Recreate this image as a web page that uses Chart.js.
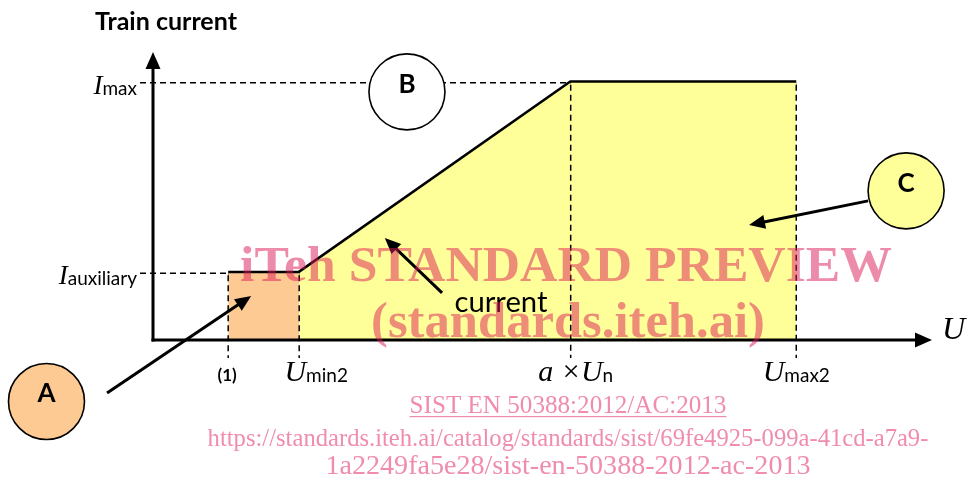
<!DOCTYPE html>
<html><head><meta charset="utf-8">
<script src="https://cdn.jsdelivr.net/npm/chart.js@4.4.1/dist/chart.umd.min.js"></script>
<style>html,body{margin:0;padding:0;background:#fff;overflow:hidden}canvas{display:block}</style>
</head><body>
<canvas id="c" width="967" height="479"></canvas>
<script>
// ---------------- data ----------------
const voltage = [18, 35, 100, 154];          // U(1), Umin2, a×Un, Umax2 (arbitrary units)
const trainCurrent = [26, 26, 100, 100];     // Iauxiliary, Iauxiliary, Imax, Imax
const xTickLabels = ['(1)', 'U_{min2}', 'a ×U_{n}', 'U_{max2}'];
const yTickValues = [100, 26];
const yTickLabels = ['I_{max}', 'I_{auxiliary}'];
const axisTitles = ['Train current', 'U'];
const zoneLabels = ['A', 'B', 'C'];
const curveLabel = 'current';
const watermark = ['iTeh STANDARD PREVIEW', '(standards.iteh.ai)'];
const footer = ['SIST EN 50388:2012/AC:2013',
  'https://standards.iteh.ai/catalog/standards/sist/69fe4925-099a-41cd-a7a9-',
  '1a2249fa5e28/sist-en-50388-2012-ac-2013'];

// ---------------- annotation layout (data units) ----------------
const X_MAX = 186.5, Y_MAX = 112;
const zonePos = [[-25.5, -23.9], [60.8, 96.5], [180.3, 58.0]];
const zoneFill = ['#fdca93', '#ffffff', '#ffff99'];
const arrows = [
  [[-11.0, -20.6], [23.5, 17.1]],
  [[69.2, 18.3], [55.5, 39.7]],
  [[171.2, 54.1], [142.7, 44.7]]
];
const curveLabelPos = [83.3, 10.9];

const pts = (i0, i1) => voltage.slice(i0, i1).map((v, k) => ({x: v, y: trainCurrent[i0 + k]}));

function richParts(label, mainFont, subFont) {
  const m = label.match(/^(.*)_\{(.*)\}$/);
  if (!m) return [{t: label, f: 'bold 17px Lato', dy: 0}];
  return [{t: m[1], f: mainFont, dy: 0}, {t: m[2], f: subFont, dy: 1}];
}
function drawParts(ctx, parts, x, y, align) {
  let w = 0;
  parts.forEach(p => { ctx.font = p.f; p.w = ctx.measureText(p.t).width; w += p.w; });
  let cx = align === 'right' ? x - w : align === 'center' ? x - w / 2 : x;
  parts.forEach(p => { ctx.font = p.f; ctx.textAlign = 'left'; ctx.fillText(p.t, cx, y + p.dy); cx += p.w; });
}
function fitFont(ctx, text, tmpl, width) {
  ctx.font = tmpl.replace('SZ', 100);
  const s = 100 * width / ctx.measureText(text).width;
  return tmpl.replace('SZ', s.toFixed(2));
}
function arrow(ctx, x1, y1, x2, y2) {
  const L = 16, H = 7, ang = Math.atan2(y2 - y1, x2 - x1);
  const bx = x2 - L * Math.cos(ang), by = y2 - L * Math.sin(ang);
  ctx.lineWidth = 3;
  ctx.beginPath(); ctx.moveTo(x1, y1); ctx.lineTo(bx + 2 * Math.cos(ang), by + 2 * Math.sin(ang)); ctx.stroke();
  ctx.beginPath(); ctx.moveTo(x2, y2);
  ctx.lineTo(bx - H * Math.sin(ang), by + H * Math.cos(ang));
  ctx.lineTo(bx + H * Math.sin(ang), by - H * Math.cos(ang));
  ctx.closePath(); ctx.fill();
}

const overlay = {
  id: 'overlay',
  afterDatasetsDraw(chart) {
    const {ctx, chartArea: a, scales: {x: sx, y: sy}} = chart;
    const X = v => sx.getPixelForValue(v), Y = v => sy.getPixelForValue(v);
    const x0 = X(0), y0 = Y(0);
    ctx.save();
    ctx.strokeStyle = '#000'; ctx.fillStyle = '#000';
    // dashed guides
    ctx.setLineDash([6, 4]); ctx.lineWidth = 1.5;
    yTickValues.forEach(v => {
      const i = trainCurrent.indexOf(v);
      ctx.beginPath(); ctx.moveTo(x0 - 13, Y(v)); ctx.lineTo(X(voltage[i]), Y(v)); ctx.stroke();
    });
    voltage.forEach((v, i) => {
      ctx.beginPath(); ctx.moveTo(X(v), Y(trainCurrent[i]) + 2); ctx.lineTo(X(v), y0 + 18); ctx.stroke();
    });
    ctx.setLineDash([]);
    // axes with arrowheads
    ctx.lineWidth = 3;
    ctx.beginPath(); ctx.moveTo(x0, y0 + 1.5); ctx.lineTo(x0, a.top + 12); ctx.stroke();
    ctx.beginPath(); ctx.moveTo(a.left, a.top); ctx.lineTo(a.left - 7.5, a.top + 17); ctx.lineTo(a.left + 7.5, a.top + 17); ctx.closePath(); ctx.fill();
    ctx.beginPath(); ctx.moveTo(x0 - 1.5, y0); ctx.lineTo(a.right - 12, y0); ctx.stroke();
    ctx.beginPath(); ctx.moveTo(a.right, y0); ctx.lineTo(a.right - 17, y0 - 7.5); ctx.lineTo(a.right - 17, y0 + 7.5); ctx.closePath(); ctx.fill();
    // arrows
    arrows.forEach(([p, q]) => arrow(ctx, X(p[0]), Y(p[1]), X(q[0]), Y(q[1])));
    // zone circles
    zoneLabels.forEach((lab, i) => {
      const cx = X(zonePos[i][0]), cy = Y(zonePos[i][1]);
      ctx.beginPath(); ctx.arc(cx, cy, 38, 0, Math.PI * 2);
      ctx.fillStyle = zoneFill[i]; ctx.fill();
      ctx.lineWidth = 1.6; ctx.stroke();
      ctx.fillStyle = '#000'; ctx.font = 'bold 26px Lato';
      ctx.textAlign = 'center'; ctx.textBaseline = 'alphabetic';
      ctx.fillText(lab, cx, cy + 1);
    });
    // tick labels
    ctx.textBaseline = 'alphabetic';
    yTickValues.forEach((v, i) => {
      drawParts(ctx, richParts(yTickLabels[i], 'italic 27px "Liberation Serif"', '19px Lato'), x0 - 16, Y(v) + 11, 'right');
    });
    const xOff = [-1, 17, 5, 0];
    voltage.forEach((v, i) => {
      drawParts(ctx, richParts(xTickLabels[i], 'italic 30px "Liberation Serif"', '19px Lato'), X(v) + xOff[i], y0 + 41, 'center');
    });
    // axis titles
    ctx.font = fitFont(ctx, axisTitles[0], 'bold SZpx Lato', 142);
    ctx.textAlign = 'left'; ctx.fillText(axisTitles[0], 95, 30);
    ctx.font = 'italic 32px "Liberation Serif"';
    ctx.fillText(axisTitles[1], a.right + 10, y0 - 1);
    // curve label
    ctx.font = fitFont(ctx, curveLabel, 'SZpx Lato', 93);
    ctx.textAlign = 'center';
    ctx.fillText(curveLabel, X(curveLabelPos[0]), Y(curveLabelPos[1]));
    // watermark
    ctx.fillStyle = 'rgba(220,25,85,0.5)';
    ctx.font = fitFont(ctx, watermark[0], 'bold SZpx "Liberation Serif"', 652);
    ctx.fillText(watermark[0], 566, 281);
    ctx.font = fitFont(ctx, watermark[1], 'bold SZpx "Liberation Serif"', 394);
    ctx.fillText(watermark[1], 568, 337);
    // footer
    ctx.fillStyle = 'rgb(240,140,172)';
    const fw = [317, 721, 485], fy = [413, 446, 474];
    footer.forEach((t, i) => {
      ctx.font = fitFont(ctx, t, 'SZpx "Liberation Serif"', fw[i]);
      ctx.fillText(t, 568, fy[i]);
    });
    ctx.fillRect(568 - fw[0] / 2, fy[0] + 3, fw[0], 1.2);
    ctx.restore();
  }
};

new Chart(document.getElementById('c'), {
  type: 'line',
  data: {
    datasets: [
      {data: pts(0, 2), fill: 'origin', backgroundColor: '#fdca93', borderColor: 'rgba(0,0,0,0)', borderWidth: 0, pointRadius: 0},
      {data: pts(1, 4), fill: 'origin', backgroundColor: '#ffff99', borderColor: 'rgba(0,0,0,0)', borderWidth: 0, pointRadius: 0},
      {data: pts(0, 4), fill: false, borderColor: '#000', borderWidth: 5, pointRadius: 0, borderJoinStyle: 'miter', borderCapStyle: 'butt'}
    ]
  },
  options: {
    responsive: false, animation: false, devicePixelRatio: 1, events: [],
    layout: {padding: {left: 153, right: 35, top: 52, bottom: 139}},
    elements: {line: {tension: 0}},
    scales: {
      x: {type: 'linear', min: 0, max: X_MAX, display: false},
      y: {type: 'linear', min: 0, max: Y_MAX, display: false}
    },
    plugins: {legend: {display: false}, tooltip: {enabled: false}, title: {display: false}}
  },
  plugins: [overlay]
});
</script>
</body></html>
